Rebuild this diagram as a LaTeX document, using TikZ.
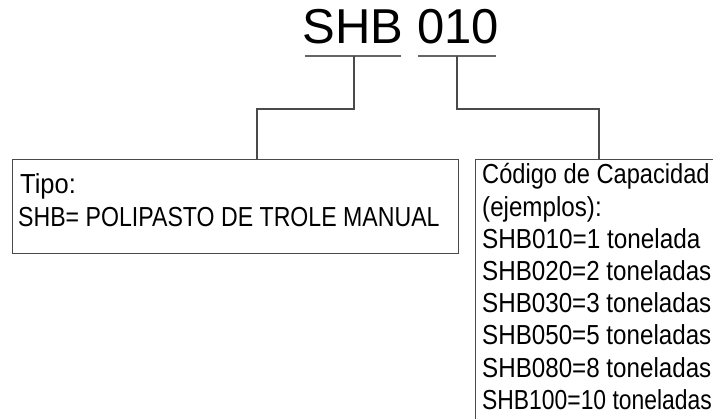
\documentclass[tikz,border=0pt]{standalone}
\usepackage{graphicx}
\usepackage{fontspec}
\setmainfont{Liberation Sans}
\definecolor{linegray}{HTML}{4A4A4A}
\newcommand{\hsq}[2]{\scalebox{#1}[1]{#2}}
\begin{document}
\begin{tikzpicture}[x=1pt,y=-1pt,
  conn/.style={draw=linegray, line width=1.5pt},
  uline/.style={draw=linegray!85, line width=2.4pt},
  boxnode/.style={draw=linegray, line width=1.4pt, rectangle, inner sep=0pt, anchor=north west},
  txt/.style={anchor=base west, inner sep=0pt, font=\fontsize{27.5}{27.5}\selectfont}]
\useasboundingbox (0,0) rectangle (713,419);
\fill[white] (0,0) rectangle (713,419);
% title
\node[anchor=base west, inner sep=0pt, font=\fontsize{49}{49}\selectfont] (title) at (302.7,44) {SHB 010};
\coordinate (u1a) at (305,56);
\coordinate (u1b) at (401,56);
\coordinate (u2a) at (418,56);
\coordinate (u2b) at (496,56);
\draw[uline] (u1a) -- (u1b);
\draw[uline] (u2a) -- (u2b);
% boxes
\node[boxnode, minimum width=446pt, minimum height=94pt] (tipo) at (12,159) {};
\node[boxnode, minimum width=320pt, minimum height=320pt] (cap) at (475,159) {};
% connectors
\coordinate (j1) at (354,56);
\coordinate (k1) at (257,109);
\coordinate (j2) at (457,56);
\coordinate (k2) at (599,109);
\draw[conn] (j1) |- (k1) -- (k1 |- tipo.north);
\draw[conn] (j2) |- (k2) -- (k2 |- cap.north);
% left text
\node[txt] (t1) at (20,194) {\hsq{0.927}{Tipo:}};
\node[txt] (t2) at (18,227) {\hsq{0.841}{SHB= POLIPASTO DE TROLE MANUAL}};
% right text
\node[txt] (c0) at (482,184.0) {\hsq{0.86}{C\'odigo de Capacidad}};
\node[txt] (c1) at (482,216.2) {\hsq{0.879}{(ejemplos):}};
\node[txt] (c2) at (482,248.4) {\hsq{0.884}{SHB010=1 tonelada}};
\node[txt] (c3) at (482,280.6) {\hsq{0.879}{SHB020=2 toneladas}};
\node[txt] (c4) at (482,312.8) {\hsq{0.879}{SHB030=3 toneladas}};
\node[txt] (c5) at (482,345.0) {\hsq{0.879}{SHB050=5 toneladas}};
\node[txt] (c6) at (482,377.2) {\hsq{0.879}{SHB080=8 toneladas}};
\node[txt] (c7) at (482,409.4) {\hsq{0.832}{SHB100=10 toneladas}};
\end{tikzpicture}
\end{document}
